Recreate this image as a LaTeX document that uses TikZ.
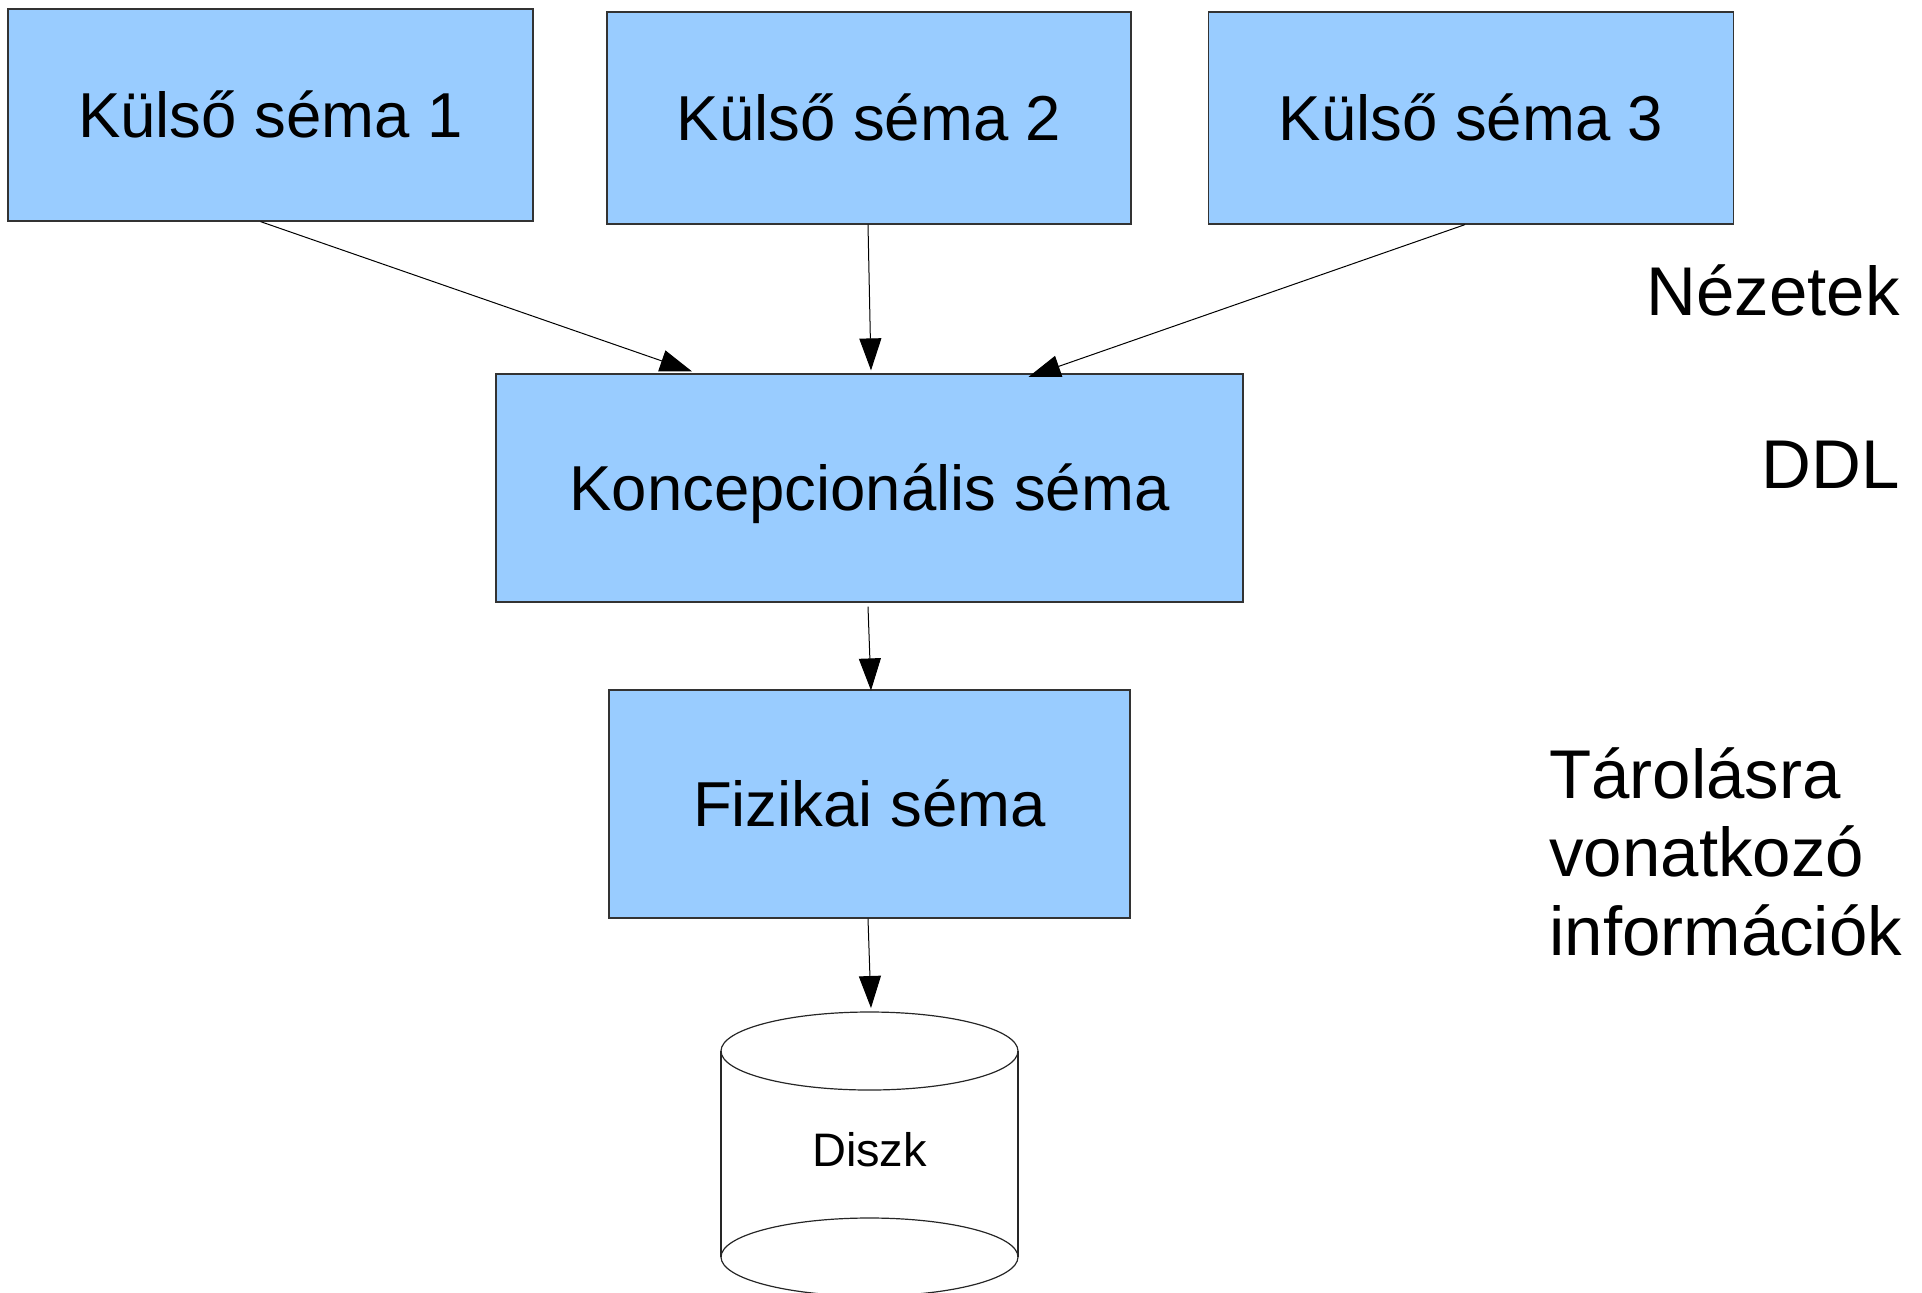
\documentclass[tikz,border=0pt]{standalone}
\usepackage{fontspec}
\setmainfont{Liberation Sans}
\usetikzlibrary{arrows.meta}
\definecolor{boxblue}{HTML}{99CCFF}
\begin{document}
\begin{tikzpicture}[x=0.5pt,y=-0.5pt,
  schemabox/.style={draw=black!80,line width=0.6pt,fill=boxblue,inner sep=0pt,
    font=\fontsize{31.75}{38}\selectfont,text height=22.7pt,text depth=0pt},
  arr/.style={line width=0.5pt,-{Triangle[length=16pt,width=11pt]}},
  sidelabel/.style={inner sep=0pt,font=\fontsize{34.5}{39.25}\selectfont},
  diskline/.style={line width=0.6pt,draw=black!85}]
\useasboundingbox (0,0) rectangle (1922,1292);
\clip (0,0) rectangle (1922,1292);

\node[schemabox,minimum width=262.5pt,minimum height=106pt] (k1) at (270.5,115) {Külső séma 1};
\node[schemabox,minimum width=262pt,minimum height=106pt] (k2) at (869,118) {Külső séma 2};
\node[schemabox,minimum width=262.5pt,minimum height=106pt] (k3) at (1471,118) {Külső séma 3};
\node[schemabox,minimum width=373.5pt,minimum height=114pt] (konc) at (869.5,488) {Koncepcionális séma};
\node[schemabox,minimum width=260.5pt,minimum height=114pt] (fiz) at (869.5,804) {Fizikai séma};

% cylinder
\draw[diskline] (721,1051) -- (721,1257);
\draw[diskline] (1018,1051) -- (1018,1257);
\draw[diskline] (869.5,1051) ellipse [x radius=74.25pt, y radius=19.5pt];
\draw[diskline] (869.5,1257) ellipse [x radius=74.25pt, y radius=19.5pt];
\coordinate (disktop) at (869.5,1012);
\node[inner sep=0pt,font=\fontsize{23.5}{28}\selectfont,text height=16.8pt,text depth=0pt] (diszk) at (869.5,1150) {Diszk};

% connectors
\draw[arr] ([xshift=-5pt]k1.south) -- ([xshift=-88.75pt,yshift=1pt]konc.north);
\draw[arr] ([xshift=-0.5pt]k2.south) -- ([xshift=0.75pt,yshift=1.5pt]konc.north);
\draw[arr] ([xshift=-3pt]k3.south) -- ([xshift=79.5pt,yshift=-1.75pt]konc.north);
\draw[arr] ([xshift=-0.75pt,yshift=-2pt]konc.south) -- ([xshift=0.75pt,yshift=-0.5pt]fiz.north);
\draw[arr] ([xshift=-0.75pt]fiz.south) -- ([xshift=0.75pt,yshift=2pt]disktop);

% side labels
\node[sidelabel,anchor=base east] (nezetek) at (1900,315) {Nézetek};
\node[sidelabel,anchor=base east] (ddl) at (1900,488) {DDL};
\node[sidelabel,anchor=base west,align=left] (tarolas) at (1549,955) {Tárolásra\\vonatkozó\\információk};
\end{tikzpicture}
\end{document}
